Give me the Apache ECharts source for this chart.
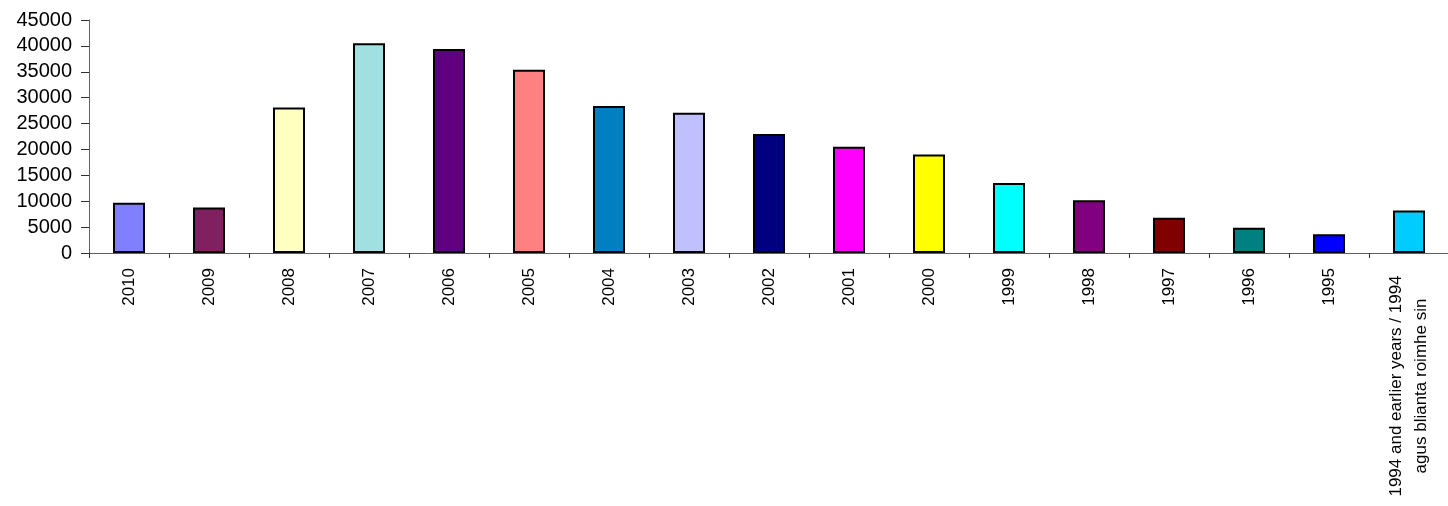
<!DOCTYPE html>
<html>
<head>
<meta charset="utf-8">
<script src="https://cdn.jsdelivr.net/npm/echarts@6/dist/echarts.min.js"></script>
<style>
html,body{margin:0;padding:0;background:#fff;}
#chart{width:1448px;height:506px;}
</style>
</head>
<body>
<div id="chart"></div>
<script>
const categories = ['2010','2009','2008','2007','2006','2005','2004','2003','2002','2001','2000','1999','1998','1997','1996','1995','1994 and earlier years / 1994\nagus blianta roimhe sin'];
const values = [9700, 8800, 28100, 40500, 39400, 35400, 28400, 27100, 23000, 20500, 19000, 13500, 10200, 6800, 4900, 3600, 8200];
const barColors = ['#8080FF','#802060','#FFFFC0','#A0E0E0','#600080','#FF8080','#0080C0','#C0C0FF','#000080','#FF00FF','#FFFF00','#00FFFF','#800080','#800000','#008080','#0000FF','#00CCFF'];
const yTicks = [0, 5000, 10000, 15000, 20000, 25000, 30000, 35000, 40000, 45000];

const chart = echarts.init(document.getElementById('chart'), null, {renderer:'canvas'});
chart.setOption({
  animation: false,
  backgroundColor: '#fff',
  grid: {left: 89, top: 20, width: 1360, height: 233, containLabel: false, outerBoundsMode: 'none'},
  xAxis: {
    type: 'category',
    data: categories,
    boundaryGap: true,
    axisLine: {lineStyle: {color: '#606060', width: 1}},
    axisTick: {show: true, length: 5, lineStyle: {color: '#303030'}},
    axisLabel: {
      rotate: 90,
      margin: 15,
      interval: 0,
      color: '#000',
      fontFamily: 'Liberation Sans, Arial, sans-serif',
      fontSize: 17,
      lineHeight: 25,
      formatter: function (v) {
        if (v.indexOf('\n') >= 0) {
          return v.split('\n').map(function (s) { return '{c|' + s + '}'; }).join('\n');
        }
        return v;
      },
      rich: {
        c: {width: 236, align: 'center', fontSize: 17, lineHeight: 25, color: '#000', fontFamily: 'Liberation Sans, Arial, sans-serif'}
      }
    },
    splitLine: {show: false}
  },
  yAxis: {
    type: 'value',
    min: yTicks[0],
    max: yTicks[yTicks.length - 1],
    interval: 5000,
    axisLine: {show: true, lineStyle: {color: '#606060', width: 1}},
    axisTick: {show: true, length: 8, lineStyle: {color: '#303030'}},
    axisLabel: {
      margin: 17,
      color: '#000',
      fontFamily: 'Liberation Sans, Arial, sans-serif',
      fontSize: 20,
      formatter: function (v) { return String(v); }
    },
    splitLine: {show: false}
  },
  series: [{
    type: 'bar',
    barWidth: 32,
    data: values.map(function (v, i) {
      return {value: v, itemStyle: {color: barColors[i]}};
    }),
    itemStyle: {borderColor: '#000', borderWidth: 2}
  }]
});
</script>
</body>
</html>
